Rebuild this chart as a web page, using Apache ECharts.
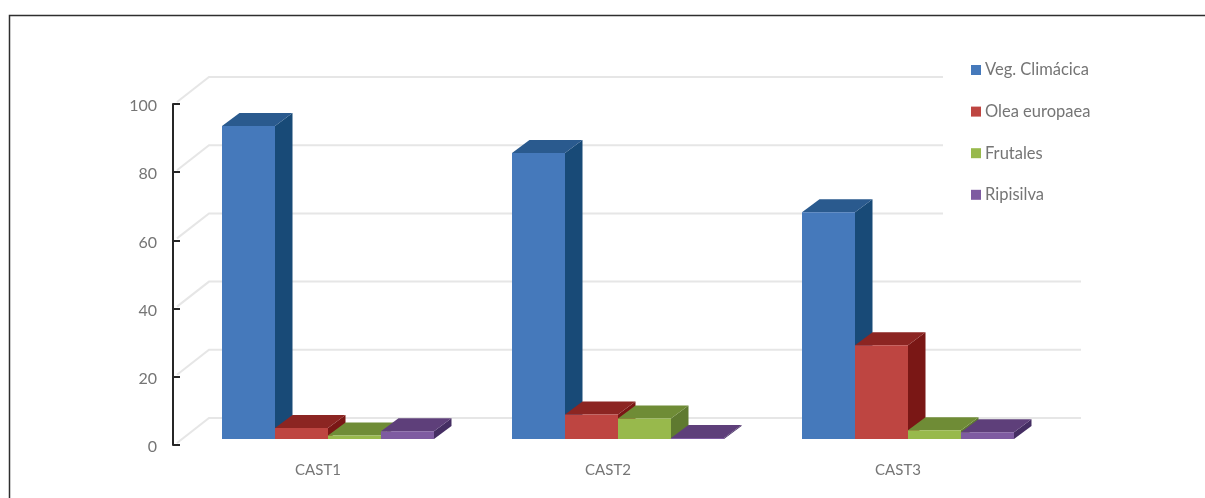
<!DOCTYPE html>
<html>
<head>
<meta charset="utf-8">
<style>html,body{margin:0;padding:0;background:#fff}#chart{width:1205px;height:498px}</style>
<script src="https://cdn.jsdelivr.net/npm/echarts@6/dist/echarts.min.js"></script>
</head>
<body>
<div id="chart"></div>
<script>
// Land-cover share per cast, in percent
const categories = ['CAST1', 'CAST2', 'CAST3'];
const vegClimacica = [91.8, 83.9, 66.5];
const oleaEuropaea = [3.2, 7.2, 27.5];
const frutales = [1, 6, 2.6];
const ripisilva = [2.3, 0.3, 2];
const yTicks = [0, 20, 40, 60, 80, 100];

const FONT = 'Lato, "Open Sans", sans-serif';
const TEXT = '#757575';

// Pseudo-3D projection offsets, in pixels
const FLOOR_SHIFT = [10, -6];   // front face of the bars relative to the axis plane
const BAR_DEPTH = [17.5, -13];  // depth of each bar
const WALL_SHIFT = [36, -27];   // back wall relative to the axis plane
const BAR_SHARE = 53 / 290;     // bar width as a share of the category band

const seriesDefs = [
  { name: 'Veg. Climácica', data: vegClimacica, front: '#4579bb', top: '#2a5a8e', side: '#184a77' },
  { name: 'Olea europaea', data: oleaEuropaea, front: '#be4541', top: '#8c2522', side: '#7a1715' },
  { name: 'Frutales', data: frutales, front: '#98b94c', top: '#6f8c36', side: '#5f7a30' },
  { name: 'Ripisilva', data: ripisilva, front: '#7e5ba1', top: '#5e3f7a', side: '#452e63' }
];

function poly(points, color) {
  return { type: 'polygon', shape: { points }, style: { fill: color } };
}

// One box: front, top and right faces, placed by the axis scales
function barRenderer(def, slot) {
  return function (params, api) {
    const idx = api.value(0);
    const base = api.coord([idx, 0]);
    const tip = api.coord([idx, api.value(1)]);
    const w = api.size([1, 0])[0] * BAR_SHARE;
    const x0 = base[0] + (slot - 2) * w + FLOOR_SHIFT[0];
    const x1 = x0 + w;
    const y0 = base[1] + FLOOR_SHIFT[1];
    const y1 = tip[1] + FLOOR_SHIFT[1];
    const dx = BAR_DEPTH[0], dy = BAR_DEPTH[1];
    return {
      type: 'group',
      children: [
        poly([[x1, y0], [x1 + dx, y0 + dy], [x1 + dx, y1 + dy], [x1, y1]], def.side),
        poly([[x0, y1], [x1, y1], [x1 + dx, y1 + dy], [x0 + dx, y1 + dy]], def.top),
        { type: 'rect', shape: { x: x0, y: y1, width: w, height: y0 - y1 }, style: { fill: def.front } }
      ]
    };
  };
}

// Gridline running up the side wall and along the back wall
function wallRenderer(params, api) {
  const cs = params.coordSys;
  const y = api.coord([0, api.value(0)])[1];
  return {
    type: 'polyline',
    shape: {
      points: [
        [cs.x + 4, y - 2],
        [cs.x + WALL_SHIFT[0], y + WALL_SHIFT[1]],
        [cs.x + cs.width + WALL_SHIFT[0] + 2, y + WALL_SHIFT[1]]
      ]
    },
    style: { fill: 'none', stroke: '#e6e6e6', lineWidth: 2 }
  };
}

const option = {
  animation: false,
  backgroundColor: '#fff',
  color: seriesDefs.map(d => d.front),
  textStyle: { fontFamily: FONT },
  graphic: [{
    type: 'polyline',
    silent: true,
    shape: { points: [[9.5, 498], [9.5, 15.5], [1205, 15.5]] },
    style: { fill: 'none', stroke: '#2e2e2e', lineWidth: 1.5 }
  }],
  grid: { left: 173, top: 104, width: 870, height: 341, containLabel: false },
  legend: {
    orient: 'vertical',
    left: 943,
    top: 50,
    padding: [11.5, 4, 12, 28],
    backgroundColor: '#fff',
    icon: 'rect',
    itemWidth: 10,
    itemHeight: 10,
    itemGap: 24.6,
    data: seriesDefs.map(d => d.name),
    textStyle: { color: TEXT, fontFamily: FONT, fontSize: 16.5, lineHeight: 16, padding: [1, 0, 0, -1] }
  },
  xAxis: {
    type: 'category',
    data: categories,
    axisLine: { show: false },
    axisTick: { show: false },
    axisLabel: { color: TEXT, fontFamily: FONT, fontSize: 15, margin: 18 }
  },
  yAxis: {
    type: 'value',
    min: 0,
    max: 100,
    interval: 20,
    splitLine: { show: false },
    axisLine: { show: true, lineStyle: { color: '#262626', width: 2 } },
    axisTick: { show: true, inside: true, length: 7, lineStyle: { color: '#262626', width: 2 } },
    axisLabel: {
      margin: 16,
      formatter: '{tick|{value}}',
      rich: { tick: { color: TEXT, fontFamily: FONT, fontSize: 16, padding: [4, 0, 0, 0] } }
    }
  },
  series: [
    {
      type: 'custom',
      name: 'wall',
      silent: true,
      z: 1,
      renderItem: wallRenderer,
      encode: { y: 0 },
      data: yTicks.map(v => [v])
    },
    ...seriesDefs.map((def, slot) => ({
      type: 'custom',
      name: def.name,
      z: 2 + slot,
      itemStyle: { color: def.front },
      renderItem: barRenderer(def, slot),
      encode: { x: 0, y: 1 },
      data: def.data.map((v, i) => [i, v])
    }))
  ]
};

echarts.init(document.getElementById('chart'), null, { renderer: 'canvas' }).setOption(option);
</script>
</body>
</html>
